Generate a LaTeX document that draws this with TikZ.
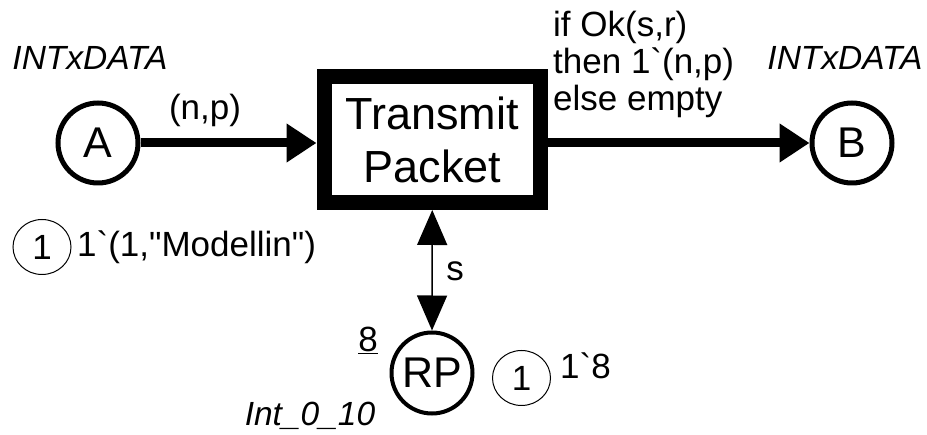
\documentclass[tikz,border=0pt]{standalone}
\usepackage{fontspec}
% plain family, so that ` and " stay as typed
\newfontfamily\netfont{Liberation Sans}
\usetikzlibrary{arrows.meta,shapes.geometric}
\begin{document}
\begin{tikzpicture}[x=1pt,y=-1pt,
  every node/.style={font=\netfont},
  place/.style={circle, draw, line width=5pt, minimum size=80pt, inner sep=0pt,
    font=\netfont\fontsize{43}{48}\selectfont},
  trans/.style={rectangle, draw, line width=15pt, minimum width=216.5pt,
    minimum height=126pt, inner sep=0pt, align=center,
    font=\netfont\fontsize{45}{53}\selectfont},
  lbl/.style={inner sep=0pt, font=\netfont\fontsize{35}{37}\selectfont},
  typ/.style={inner sep=0pt, font=\netfont\fontsize{33.5}{36}\selectfont\itshape},
  token/.style={ellipse, draw, line width=1pt, minimum width=58pt,
    minimum height=55pt, inner sep=0pt, font=\netfont\fontsize{35}{36}\selectfont},
  arc/.style={line width=9pt, -{Triangle[length=30pt,width=37pt]}},
  thinarc/.style={line width=1.5pt,
    {Triangle[length=35pt,width=30pt]}-{Triangle[length=35pt,width=30pt]}}
]
\useasboundingbox (0,0) rectangle (927,435);

% places and transition
\node[place] (A) at (98,143) {A};
\node[place] (B) at (852,143) {B};
\node[place, line width=4pt, minimum size=81pt] (RP) at (432,373) {RP};
\node[trans] (T) at (432.25,139.5) {Transmit\\Packet};

% arcs
\draw[arc] (A) -- (T.west |- A);
\draw[arc] (T.east |- B) -- (B);
\draw[thinarc] (T.south) -- (RP.north);

% arc inscriptions
\node[lbl] (anp) at (205,110) {(n,p)};
\node[lbl, align=left, anchor=west] (acond) at (553,64)
  {if Ok(s,r)\\then 1`(n,p)\\else empty};
\node[lbl] (as) at (455,271) {s};

% colour sets
\node[typ] (tA) at (90,58) {INTxDATA};
\node[typ] (tB) at (845,58) {INTxDATA};
\node[typ] (tRP) at (310,416) {Int\_0\_10};

% initial marking of RP
\node[lbl] (iRP) at (368,340) {\underline{8}};

% current markings
\node[token] (kA) at (42,247) {1};
\node[lbl, anchor=west] (mA) at (77,247) {1`(1,"Modellin")};
\node[token] (kRP) at (521.5,378) {1};
\node[lbl, anchor=west] (mRP) at (560,366) {1`8};
\end{tikzpicture}
\end{document}
